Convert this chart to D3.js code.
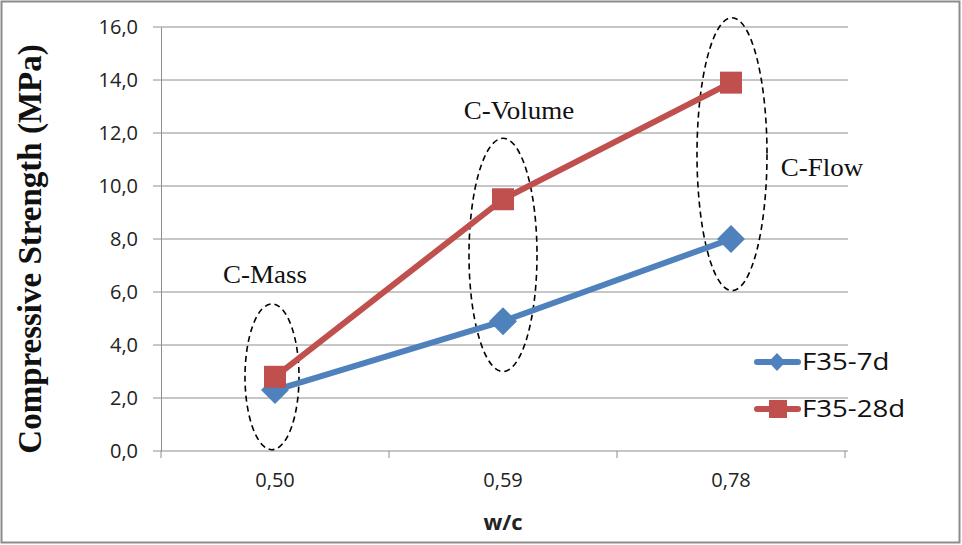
<!DOCTYPE html>
<html lang="en">
<head>
<meta charset="utf-8">
<title>Compressive Strength</title>
<script src="https://d3js.org/d3.v7.min.js"></script>
<style>
  body { margin: 0; background: #fff; }
  svg { display: block; }
</style>
</head>
<body>
<div id="chart"></div>
<script>
// data
var categories = ["0,50", "0,59", "0,78"];
var seriesNames = ["F35-7d", "F35-28d"];
var f35_7d = [2.3, 4.9, 8.0];
var f35_28d = [2.8, 9.5, 13.9];
var yTicks = [0, 2, 4, 6, 8, 10, 12, 14, 16];
// mixes: label, ellipse centre value and half-height (MPa)
var mixLabels = ["C-Mass", "C-Volume", "C-Flow"];
var mixCenter = [2.8, 7.4, 11.2];
var mixHalf = [2.75, 4.4, 5.15];

var W = 962, H = 545;
var margin = {left: 161, right: 117, top: 27, bottom: 94};

var svg = d3.select("#chart").append("svg")
    .attr("width", W).attr("height", H);

// outer frame
svg.append("rect")
    .attr("x", 1.5).attr("y", 1.5)
    .attr("width", W - 4).attr("height", H - 4)
    .attr("fill", "#fff").attr("stroke", "#8c8c8c").attr("stroke-width", 2);

var x = d3.scaleBand().domain(categories)
    .range([margin.left, W - margin.right]);
var y = d3.scaleLinear().domain([0, 16])
    .range([H - margin.bottom, margin.top]);

// gridlines
svg.append("g").selectAll("line").data(yTicks).join("line")
    .attr("x1", margin.left - 8).attr("x2", W - margin.right + 3)
    .attr("y1", d => y(d)).attr("y2", d => y(d))
    .attr("stroke", "#8e8e8e").attr("stroke-width", 1);

// y axis
var yAxis = svg.append("g")
    .attr("transform", "translate(" + margin.left + ",0)")
    .call(d3.axisLeft(y).tickValues(yTicks).tickSize(0).tickPadding(23)
        .tickFormat(d => d3.format(".1f")(d).replace(".", ",")));
yAxis.select(".domain").attr("stroke", "#8e8e8e");
yAxis.selectAll("text")
    .attr("font-family", "Open Sans, sans-serif")
    .attr("font-size", 20).attr("fill", "#222");

// x axis
var xAxis = svg.append("g")
    .attr("transform", "translate(0," + y(0) + ")")
    .call(d3.axisBottom(x).tickSize(0).tickPadding(22));
xAxis.select(".domain").remove();
xAxis.selectAll("text")
    .attr("font-family", "Open Sans, sans-serif")
    .attr("font-size", 20).attr("fill", "#222");
var edges = categories.map(c => x(c)).concat([x.range()[1]]);
svg.append("g").selectAll("line").data(edges).join("line")
    .attr("x1", d => d).attr("x2", d => d)
    .attr("y1", y(0)).attr("y2", y(0) + 7)
    .attr("stroke", "#8e8e8e");

var cx = c => x(c) + x.bandwidth() / 2;

// dashed ellipses around each mix
svg.append("g").selectAll("ellipse").data(categories).join("ellipse")
    .attr("cx", (c, i) => cx(c) - [3, 0, -1][i])
    .attr("cy", (c, i) => y(mixCenter[i]))
    .attr("rx", (c, i) => [27, 34, 35][i])
    .attr("ry", (c, i) => y(0) - y(mixHalf[i]))
    .attr("fill", "none").attr("stroke", "#000")
    .attr("stroke-width", 1.6).attr("stroke-dasharray", "6,4");

// mix labels
var labelPos = [[265, 283], [519, 119], [822, 176]];
svg.append("g").selectAll("text").data(mixLabels).join("text")
    .attr("transform", (d, i) => "translate(" + labelPos[i][0] + "," + labelPos[i][1] + ") scale(1.08,1)")
    .attr("text-anchor", "middle")
    .attr("font-family", "Liberation Serif, serif")
    .attr("font-size", 25).attr("fill", "#111")
    .text(d => d);

var colors = ["#4f81bd", "#c0504d"];
var allSeries = [f35_7d, f35_28d];
var line = d3.line().x((d, i) => cx(categories[i])).y(d => y(d));

allSeries.forEach(function(s, k) {
  svg.append("path").datum(s)
      .attr("d", line).attr("fill", "none")
      .attr("stroke", colors[k]).attr("stroke-width", 6)
      .attr("stroke-linejoin", "round");
});

// markers
var diamond = d3.symbol().type(d3.symbolDiamond).size(226);
svg.append("g").selectAll("path").data(f35_7d).join("path")
    .attr("d", diamond)
    .attr("transform", (d, i) => "translate(" + cx(categories[i]) + "," + y(d) + ") scale(1.73,1)")
    .attr("fill", colors[0]);
svg.append("g").selectAll("rect").data(f35_28d).join("rect")
    .attr("x", (d, i) => cx(categories[i]) - 11)
    .attr("y", d => y(d) - 11)
    .attr("width", 22).attr("height", 22)
    .attr("fill", colors[1]);

// legend
var legend = svg.append("g").selectAll("g").data(seriesNames).join("g")
    .attr("transform", (d, i) => "translate(757," + (362 + i * 47) + ")");
legend.append("line")
    .attr("x1", 0).attr("x2", 41)
    .attr("stroke", (d, i) => colors[i]).attr("stroke-width", 6)
    .attr("stroke-linecap", "round");
legend.filter((d, i) => i === 0).append("path")
    .attr("d", d3.symbol().type(d3.symbolDiamond).size(94))
    .attr("transform", "translate(20,0) scale(1.64,1)")
    .attr("fill", colors[0]);
legend.filter((d, i) => i === 1).append("rect")
    .attr("x", 12).attr("y", -9).attr("width", 18).attr("height", 18)
    .attr("fill", colors[1]);
legend.append("text")
    .attr("transform", "translate(45,0) scale(1.2,1)")
    .attr("dy", "0.35em")
    .attr("font-family", "Open Sans, sans-serif")
    .attr("font-size", 23).attr("fill", "#111")
    .text(d => d);

// axis titles
svg.append("text")
    .attr("transform", "translate(41," + 249 + ") rotate(-90)")
    .attr("text-anchor", "middle")
    .attr("font-family", "Liberation Serif, serif")
    .attr("font-weight", "bold").attr("font-size", 33).attr("fill", "#111")
    .text("Compressive Strength (MPa)");
svg.append("text")
    .attr("x", cx(categories[1])).attr("y", 530)
    .attr("text-anchor", "middle")
    .attr("font-family", "Open Sans, sans-serif")
    .attr("font-weight", "bold").attr("font-size", 22).attr("fill", "#222")
    .text("w/c");
</script>
</body>
</html>
